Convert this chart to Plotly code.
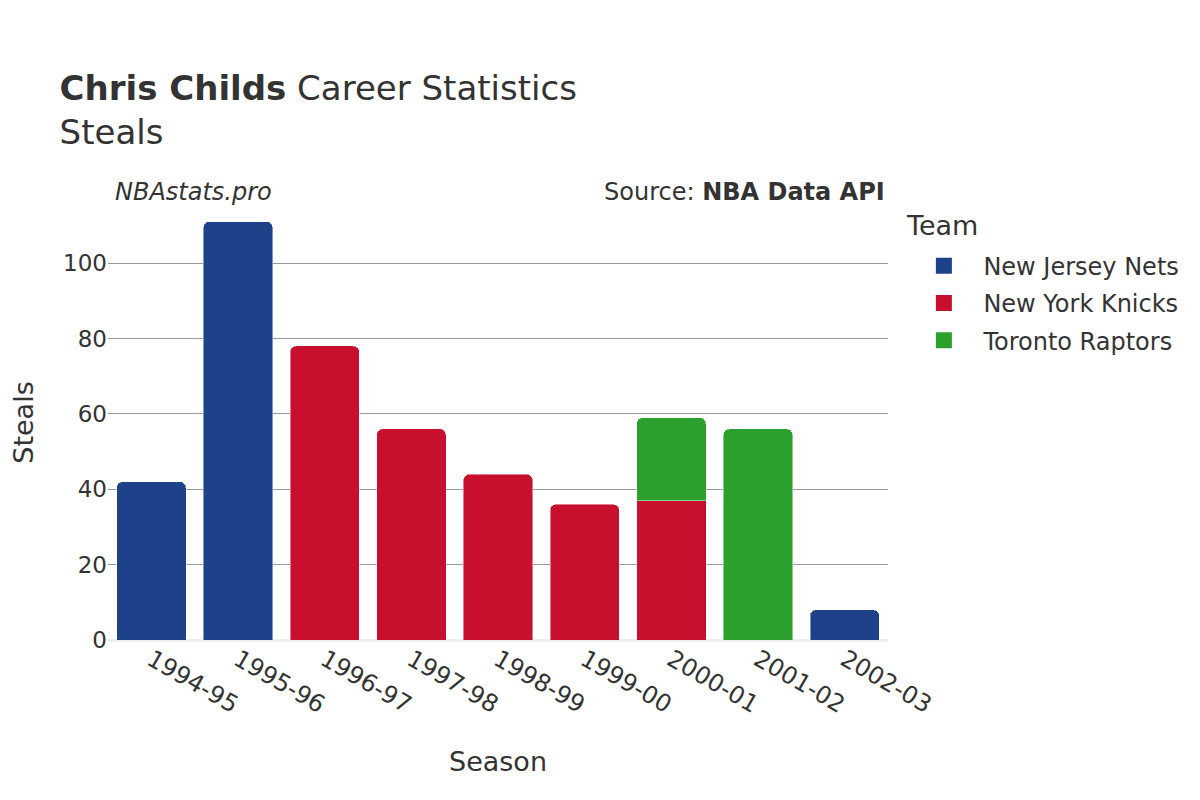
import plotly.graph_objects as go

seasons = ["1994-95", "1995-96", "1996-97", "1997-98", "1998-99", "1999-00", "2000-01", "2001-02", "2002-03"]
teams = ["New Jersey Nets", "New York Knicks", "Toronto Raptors"]
colors = ["#1d4289", "#c8102e", "#2ca02c"]
nets = [42, 111, None, None, None, None, None, None, 8]
knicks = [None, None, 78, 56, 44, 36, 37, None, None]
raptors = [None, None, None, None, None, None, 22, 56, None]
series = [nets, knicks, raptors]

FONT = "DejaVu Sans"
fig = go.Figure()
for name, vals, col in zip(teams, series, colors):
    fig.add_trace(go.Bar(
        x=seasons, y=vals, name=name, showlegend=False,
        marker=dict(color=col, line=dict(color="rgba(255,255,255,0.45)", width=1)),
    ))
# legend entries
for name, col in zip(teams, colors):
    fig.add_trace(go.Scatter(
        x=[None], y=[None], mode="markers", name=name, legendgroup=name,
        marker=dict(symbol="square", size=22, color=col),
    ))

fig.update_layout(
    width=1200, height=800,
    barmode="stack", bargap=0.2, barcornerradius=6,
    plot_bgcolor="white", paper_bgcolor="white",
    font=dict(family=FONT, color="#333333", size=20),
    margin=dict(l=100, r=320, t=197, b=168),
    title=dict(
        text="<b>Chris Childs</b> Career Statistics<br>Steals",
        x=0.043, xanchor="left", y=0.885, yanchor="top",
        font=dict(size=34, family=FONT, color="#333333"),
    ),
    legend=dict(
        font=dict(size=24), x=1.021, y=0.911, xanchor="left", yanchor="top",
        traceorder="grouped", tracegroupgap=3, itemwidth=69,
    ),
    xaxis=dict(
        type="category", automargin=False,
        title=dict(text="Season", font=dict(size=27), standoff=34),
        tickangle=30, tickfont=dict(size=24), showgrid=False,
        categoryorder="array", categoryarray=seasons,
    ),
    yaxis=dict(
        automargin=False,
        title=dict(text="Steals", font=dict(size=27), standoff=34),
        range=[0, 115.4], tickvals=[0, 20, 40, 60, 80, 100],
        tickfont=dict(size=23), gridcolor="#999999", gridwidth=1,
        zeroline=True, zerolinecolor="#eeeeee", zerolinewidth=3,
    ),
    annotations=[
        dict(text="<i>NBAstats.pro</i>", x=0.007, y=0.994, xref="paper", yref="paper",
             xanchor="left", yanchor="bottom", showarrow=False, font=dict(size=24)),
        dict(text="Source: <b>NBA Data API</b>", x=0.999, y=0.994, xref="paper", yref="paper",
             xanchor="right", yanchor="bottom", showarrow=False, font=dict(size=24)),
        dict(text="Team", x=1.0205, y=0.952, xref="paper", yref="paper",
             xanchor="left", yanchor="middle", showarrow=False, font=dict(size=27)),
    ],
)
fig.write_html("out.html")
